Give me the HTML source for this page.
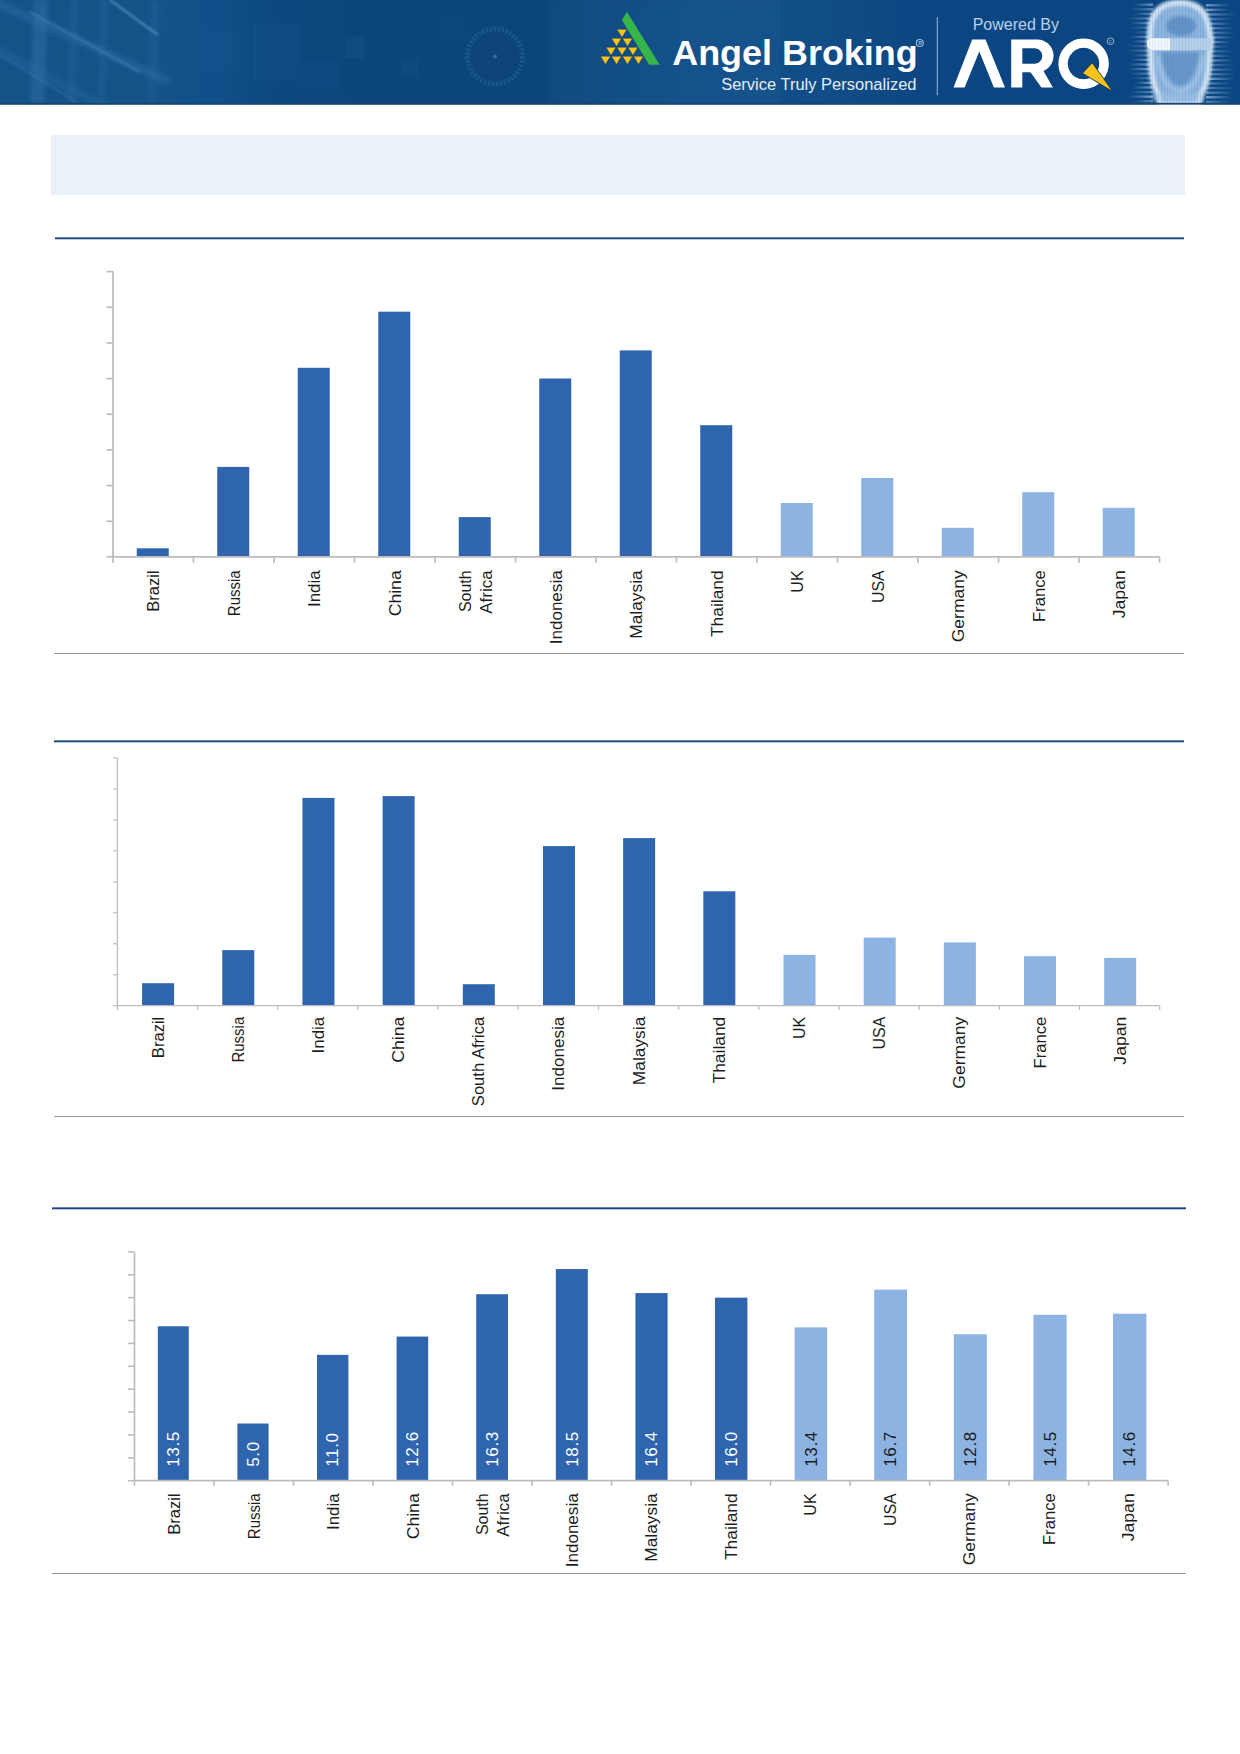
<!DOCTYPE html>
<html><head><meta charset="utf-8"><title>Angel Broking</title>
<style>
html,body{margin:0;padding:0;background:#fff;}
body{width:1240px;height:1754px;position:relative;overflow:hidden;font-family:"Liberation Sans", Arial, sans-serif;}
.abs{position:absolute;}
#hdr{left:0;top:0;width:1240px;height:105px;}
.box{left:51px;top:134.7px;width:1133.6px;height:59.9px;background:#eaf1f9;}
.hl{height:1px;background:#22457a;border-top:1px solid #6a87ab;border-bottom:1px solid #b3c8ea;}
.tl{height:1px;background:#8e9ba2;}
svg text{font-family:"Liberation Sans", Arial, sans-serif;}
</style></head>
<body>
<div class="abs" id="hdr"><svg width="1240" height="105" viewBox="0 0 1240 105" style="display:block">
<defs>
<linearGradient id="bg" x1="0" x2="1" y1="0" y2="0">
<stop offset="0" stop-color="#135388"/>
<stop offset="0.12" stop-color="#135388"/>
<stop offset="0.17" stop-color="#10508a"/>
<stop offset="0.22" stop-color="#0d4880"/>
<stop offset="0.3" stop-color="#0c457a"/>
<stop offset="0.44" stop-color="#0c457b"/>
<stop offset="0.5" stop-color="#0e4a82"/>
<stop offset="0.56" stop-color="#114e87"/>
<stop offset="0.66" stop-color="#114d87"/>
<stop offset="0.75" stop-color="#0c4682"/>
<stop offset="1" stop-color="#0c4682"/>
</linearGradient>
<radialGradient id="headg" cx="0.5" cy="0.45" r="0.6">
<stop offset="0" stop-color="#a9c7e6" stop-opacity="0.95"/>
<stop offset="0.7" stop-color="#8fb3da" stop-opacity="0.9"/>
<stop offset="1" stop-color="#7aa2cf" stop-opacity="0.6"/>
</radialGradient>
<linearGradient id="streakL" x1="0" x2="1">
<stop offset="0" stop-color="#8db6df" stop-opacity="0"/>
<stop offset="0.5" stop-color="#8db6df" stop-opacity="0.45"/>
<stop offset="1" stop-color="#a9cbec" stop-opacity="0.9"/>
</linearGradient>
<linearGradient id="streakR" x1="0" x2="1">
<stop offset="0" stop-color="#a9cbec" stop-opacity="0.9"/>
<stop offset="0.5" stop-color="#8db6df" stop-opacity="0.45"/>
<stop offset="1" stop-color="#8db6df" stop-opacity="0"/>
</linearGradient>
</defs>
<rect x="0" y="0" width="1240" height="104.5" fill="url(#bg)"/>
<defs><filter id="sb" x="-50%" y="-50%" width="200%" height="200%"><feGaussianBlur stdDeviation="2.2"/></filter><filter id="sb1" x="-20%" y="-20%" width="140%" height="140%"><feGaussianBlur stdDeviation="1.1"/></filter></defs>
<g filter="url(#sb)">
<polygon points="34,0 48,0 44,104 30,104" fill="#3a7bb6" fill-opacity="0.35"/>
<polygon points="70,0 78,0 76,104 68,104" fill="#3a7bb6" fill-opacity="0.18"/>
<polygon points="100,0 108,0 106,104 98,104" fill="#3a7bb6" fill-opacity="0.16"/>
<polygon points="150,0 160,0 158,104 148,104" fill="#3a7bb6" fill-opacity="0.15"/>
<line x1="-10" y1="0" x2="170" y2="82" stroke="#3a7bb6" stroke-opacity="0.3" stroke-width="9"/>
<line x1="-10" y1="45" x2="110" y2="110" stroke="#3a7bb6" stroke-opacity="0.22" stroke-width="8"/>
</g>
<g filter="url(#sb1)">
<line x1="110" y1="0" x2="158" y2="35" stroke="#7db0dc" stroke-opacity="0.5" stroke-width="2.2"/>
<line x1="30" y1="12" x2="140" y2="72" stroke="#6ea4d4" stroke-opacity="0.3" stroke-width="2"/>
<line x1="0" y1="55" x2="80" y2="104" stroke="#6ea4d4" stroke-opacity="0.22" stroke-width="2"/>
</g>
<rect x="254" y="23" width="46" height="58" fill="#5a98d2" fill-opacity="0.045"/>
<rect x="346" y="37" width="18" height="21" fill="#5a98d2" fill-opacity="0.07"/>
<rect x="401" y="58" width="18" height="20" fill="#5a98d2" fill-opacity="0.055"/>
<rect x="200" y="30" width="40" height="40" fill="#5a98d2" fill-opacity="0.03"/>
<rect x="300" y="60" width="40" height="30" fill="#5a98d2" fill-opacity="0.03"/>
<rect x="440" y="10" width="30" height="30" fill="#5a98d2" fill-opacity="0.02"/>
<circle cx="495" cy="56.5" r="27.5" fill="none" stroke="#6499cf" stroke-opacity="0.18" stroke-width="5" stroke-dasharray="2.5 1.5"/>
<circle cx="495" cy="56.5" r="22" fill="#0d427c" fill-opacity="0.35"/>
<circle cx="495" cy="56.5" r="2" fill="#5a8fc8" fill-opacity="0.5"/>
<rect x="550" y="0" width="230" height="104" fill="#2a6aa6" fill-opacity="0.13" filter="url(#sb)"/>
<polygon points="616.95,29.30 627.05,29.30 622.00,37.60" fill="#f8c51b" stroke="#0d3563" stroke-width="0.5"/>
<polygon points="611.45,38.25 621.55,38.25 616.50,46.55" fill="#f8c51b" stroke="#0d3563" stroke-width="0.5"/>
<polygon points="622.45,38.25 632.55,38.25 627.50,46.55" fill="#f8c51b" stroke="#0d3563" stroke-width="0.5"/>
<polygon points="605.95,47.20 616.05,47.20 611.00,55.50" fill="#f8c51b" stroke="#0d3563" stroke-width="0.5"/>
<polygon points="616.95,47.20 627.05,47.20 622.00,55.50" fill="#f8c51b" stroke="#0d3563" stroke-width="0.5"/>
<polygon points="627.95,47.20 638.05,47.20 633.00,55.50" fill="#f8c51b" stroke="#0d3563" stroke-width="0.5"/>
<polygon points="600.45,56.15 610.55,56.15 605.50,64.45" fill="#f8c51b" stroke="#0d3563" stroke-width="0.5"/>
<polygon points="611.45,56.15 621.55,56.15 616.50,64.45" fill="#f8c51b" stroke="#0d3563" stroke-width="0.5"/>
<polygon points="622.45,56.15 632.55,56.15 627.50,64.45" fill="#f8c51b" stroke="#0d3563" stroke-width="0.5"/>
<polygon points="633.45,56.15 643.55,56.15 638.50,64.45" fill="#f8c51b" stroke="#0d3563" stroke-width="0.5"/>
<polygon points="621.9,20 627,12 659.7,64.8 649.1,64.8" fill="#37b54a"/>
<text x="672.2" y="65.3" font-family="Liberation Sans, Arial, sans-serif" font-weight="bold" font-size="34.6" fill="#ffffff" textLength="245.5" lengthAdjust="spacingAndGlyphs">Angel Broking</text>
<circle cx="919.8" cy="43" r="3.5" fill="none" stroke="#9dbbe0" stroke-width="1.1"/>
<text x="918.3" y="45" font-family="Liberation Sans, Arial, sans-serif" font-weight="bold" font-size="5.2" fill="#9dbbe0">R</text>
<text x="721.2" y="89.9" font-family="Liberation Sans, Arial, sans-serif" font-size="17.4" fill="#e4edf7" textLength="195.3" lengthAdjust="spacingAndGlyphs">Service Truly Personalized</text>
<rect x="936.7" y="17.1" width="1.3" height="78.2" fill="#7d9cc4"/>
<text x="972.7" y="30" font-family="Liberation Sans, Arial, sans-serif" font-size="15.6" fill="#bcd2ec" textLength="86.3" lengthAdjust="spacingAndGlyphs">Powered By</text>
<polygon points="953.5,87.4 972.2,39.4 985.5,39.4 1005,87.4 993.9,87.4 979.3,51.4 964.6,87.4" fill="#ffffff"/>
<path fill-rule="evenodd" fill="#ffffff" d="M1011.2,87.4 V39.4 H1037.4 A16.45,16.45 0 0 1 1043.5,71.0 L1052.9,87.4 H1041.4 L1030.5,72.3 H1022.3 V87.4 Z M1022.3,48.3 H1034.55 A7.75,7.75 0 0 1 1034.55,63.8 H1022.3 Z"/>
<path fill-rule="evenodd" fill="#ffffff" d="M1083.6,38.5 A25.2,25.2 0 1 1 1083.59,38.5 Z M1083.5,47.8 A15.75,15.75 0 1 0 1083.51,47.8 Z"/>
<polygon points="1092.3,62.7 1082.4,73.3 1112.9,91.7" fill="#f8c31a" stroke="#0b2d52" stroke-width="0.9" stroke-linejoin="round"/>
<circle cx="1110.5" cy="41.2" r="3.3" fill="none" stroke="#9fb6d3" stroke-width="1"/>
<text x="1108.9" y="43.1" font-family="Liberation Sans, Arial, sans-serif" font-size="5" fill="#9fb6d3">c</text>
<defs><filter id="blur1" x="-20%" y="-20%" width="140%" height="140%"><feGaussianBlur stdDeviation="1.6"/></filter><filter id="blur05"><feGaussianBlur stdDeviation="0.6"/></filter></defs>
<g filter="url(#blur05)"><rect x="1133.1" y="3.5" width="19.9" height="2.3" fill="url(#streakL)" opacity="0.74"/><rect x="1206" y="4.1" width="25.0" height="2.3" fill="url(#streakR)" opacity="0.76"/><rect x="1130.0" y="8.1" width="23.0" height="2.3" fill="url(#streakL)" opacity="0.57"/><rect x="1206" y="8.7" width="22.1" height="2.3" fill="url(#streakR)" opacity="0.84"/><rect x="1132.9" y="12.7" width="20.1" height="2.3" fill="url(#streakL)" opacity="0.63"/><rect x="1206" y="13.3" width="30.0" height="2.3" fill="url(#streakR)" opacity="0.71"/><rect x="1128.3" y="17.3" width="24.7" height="2.3" fill="url(#streakL)" opacity="0.72"/><rect x="1206" y="17.9" width="27.1" height="2.3" fill="url(#streakR)" opacity="0.60"/><rect x="1129.9" y="21.9" width="23.1" height="2.3" fill="url(#streakL)" opacity="0.85"/><rect x="1206" y="22.5" width="26.2" height="2.3" fill="url(#streakR)" opacity="0.81"/><rect x="1129.6" y="26.5" width="23.4" height="2.3" fill="url(#streakL)" opacity="0.57"/><rect x="1206" y="27.1" width="28.1" height="2.3" fill="url(#streakR)" opacity="0.76"/><rect x="1132.6" y="31.1" width="20.4" height="2.3" fill="url(#streakL)" opacity="0.56"/><rect x="1206" y="31.7" width="28.9" height="2.3" fill="url(#streakR)" opacity="0.72"/><rect x="1129.2" y="35.7" width="23.8" height="2.3" fill="url(#streakL)" opacity="0.86"/><rect x="1206" y="36.3" width="27.7" height="2.3" fill="url(#streakR)" opacity="0.87"/><rect x="1131.8" y="40.3" width="21.2" height="2.3" fill="url(#streakL)" opacity="0.83"/><rect x="1206" y="40.9" width="25.6" height="2.3" fill="url(#streakR)" opacity="0.88"/><rect x="1128.0" y="44.9" width="25.0" height="2.3" fill="url(#streakL)" opacity="0.58"/><rect x="1206" y="45.5" width="23.1" height="2.3" fill="url(#streakR)" opacity="0.63"/><rect x="1127.3" y="49.5" width="25.7" height="2.3" fill="url(#streakL)" opacity="0.70"/><rect x="1206" y="50.1" width="27.0" height="2.3" fill="url(#streakR)" opacity="0.66"/><rect x="1130.9" y="54.1" width="22.1" height="2.3" fill="url(#streakL)" opacity="0.69"/><rect x="1206" y="54.7" width="24.8" height="2.3" fill="url(#streakR)" opacity="0.75"/><rect x="1130.3" y="58.7" width="22.7" height="2.3" fill="url(#streakL)" opacity="0.87"/><rect x="1206" y="59.3" width="27.5" height="2.3" fill="url(#streakR)" opacity="0.88"/><rect x="1128.1" y="63.3" width="24.9" height="2.3" fill="url(#streakL)" opacity="0.90"/><rect x="1206" y="63.9" width="27.4" height="2.3" fill="url(#streakR)" opacity="0.61"/><rect x="1128.1" y="67.9" width="24.9" height="2.3" fill="url(#streakL)" opacity="0.89"/><rect x="1206" y="68.5" width="29.2" height="2.3" fill="url(#streakR)" opacity="0.75"/><rect x="1129.3" y="72.5" width="23.7" height="2.3" fill="url(#streakL)" opacity="0.62"/><rect x="1206" y="73.1" width="28.7" height="2.3" fill="url(#streakR)" opacity="0.75"/><rect x="1132.7" y="77.1" width="20.3" height="2.3" fill="url(#streakL)" opacity="0.57"/><rect x="1206" y="77.7" width="28.8" height="2.3" fill="url(#streakR)" opacity="0.90"/><rect x="1134.3" y="81.7" width="18.7" height="2.3" fill="url(#streakL)" opacity="0.83"/><rect x="1206" y="82.3" width="25.3" height="2.3" fill="url(#streakR)" opacity="0.60"/><rect x="1132.6" y="86.3" width="20.4" height="2.3" fill="url(#streakL)" opacity="0.82"/><rect x="1206" y="86.9" width="29.0" height="2.3" fill="url(#streakR)" opacity="0.57"/><rect x="1130.1" y="90.9" width="22.9" height="2.3" fill="url(#streakL)" opacity="0.57"/><rect x="1206" y="91.5" width="27.7" height="2.3" fill="url(#streakR)" opacity="0.67"/><rect x="1128.0" y="95.5" width="25.0" height="2.3" fill="url(#streakL)" opacity="0.89"/><rect x="1206" y="96.1" width="26.0" height="2.3" fill="url(#streakR)" opacity="0.90"/><rect x="1132.5" y="100.1" width="20.5" height="2.3" fill="url(#streakL)" opacity="0.58"/><rect x="1206" y="100.7" width="26.8" height="2.3" fill="url(#streakR)" opacity="0.56"/></g>
<path d="M1180,2.5 C1196,2.5 1206,10 1208.5,26 L1211,40 L1209.5,56 C1209,74 1206.5,86 1201,95 L1199,104.5 H1160 L1158,95 C1153,86 1151,74 1150.5,56 L1149.5,40 L1150.5,26 C1153,10 1163,2.5 1180,2.5 Z" fill="#8cb4de"/>
<path d="M1180,2.5 C1196,2.5 1206,10 1208.5,26 L1211,40 L1209.5,56 C1209,74 1206.5,86 1201,95 L1199,104.5 H1160 L1158,95 C1153,86 1151,74 1150.5,56 L1149.5,40 L1150.5,26 C1153,10 1163,2.5 1180,2.5 Z" fill="none" stroke="#d8e8f6" stroke-width="6" filter="url(#blur1)" opacity="0.95"/>
<ellipse cx="1181" cy="26" rx="15" ry="10" fill="#4a7db6" fill-opacity="0.6" filter="url(#blur1)"/>
<path d="M1161,52 C1163,70 1169,84 1180,86 C1191,84 1197,70 1199,52 Z" fill="#4a7db6" fill-opacity="0.55" filter="url(#blur1)"/>
<path d="M1158,56 C1160,78 1168,90 1180,91 C1192,90 1200,78 1203,56" fill="none" stroke="#c6dcf1" stroke-width="2.5" opacity="0.55" filter="url(#blur1)"/>
<rect x="1152" y="93" width="52" height="8" fill="#a9c8e6" fill-opacity="0.45" filter="url(#blur1)"/>
<rect x="1149" y="3" width="0.8" height="101" fill="#2a64a0" fill-opacity="0.14"/>
<rect x="1152" y="3" width="0.8" height="101" fill="#2a64a0" fill-opacity="0.14"/>
<rect x="1155" y="3" width="0.8" height="101" fill="#2a64a0" fill-opacity="0.14"/>
<rect x="1158" y="3" width="0.8" height="101" fill="#2a64a0" fill-opacity="0.14"/>
<rect x="1161" y="3" width="0.8" height="101" fill="#2a64a0" fill-opacity="0.14"/>
<rect x="1164" y="3" width="0.8" height="101" fill="#2a64a0" fill-opacity="0.14"/>
<rect x="1167" y="3" width="0.8" height="101" fill="#2a64a0" fill-opacity="0.14"/>
<rect x="1170" y="3" width="0.8" height="101" fill="#2a64a0" fill-opacity="0.14"/>
<rect x="1173" y="3" width="0.8" height="101" fill="#2a64a0" fill-opacity="0.14"/>
<rect x="1176" y="3" width="0.8" height="101" fill="#2a64a0" fill-opacity="0.14"/>
<rect x="1179" y="3" width="0.8" height="101" fill="#2a64a0" fill-opacity="0.14"/>
<rect x="1182" y="3" width="0.8" height="101" fill="#2a64a0" fill-opacity="0.14"/>
<rect x="1185" y="3" width="0.8" height="101" fill="#2a64a0" fill-opacity="0.14"/>
<rect x="1188" y="3" width="0.8" height="101" fill="#2a64a0" fill-opacity="0.14"/>
<rect x="1191" y="3" width="0.8" height="101" fill="#2a64a0" fill-opacity="0.14"/>
<rect x="1194" y="3" width="0.8" height="101" fill="#2a64a0" fill-opacity="0.14"/>
<rect x="1197" y="3" width="0.8" height="101" fill="#2a64a0" fill-opacity="0.14"/>
<rect x="1200" y="3" width="0.8" height="101" fill="#2a64a0" fill-opacity="0.14"/>
<rect x="1203" y="3" width="0.8" height="101" fill="#2a64a0" fill-opacity="0.14"/>
<rect x="1206" y="3" width="0.8" height="101" fill="#2a64a0" fill-opacity="0.14"/>
<rect x="1209" y="3" width="0.8" height="101" fill="#2a64a0" fill-opacity="0.14"/>
<path d="M1151,38.3 H1211.6 V50.3 H1154 C1149.5,50.3 1147,47 1147,43.5 C1147,40.5 1148.5,38.3 1151,38.3 Z" fill="#b7d1ea" fill-opacity="0.95"/>
<path d="M1151,38.3 H1170 V50.3 H1154 C1149.5,50.3 1147,47 1147,43.5 C1147,40.5 1148.5,38.3 1151,38.3 Z" fill="#f1f6fb"/>
<rect x="1149" y="38.3" width="0.7" height="12" fill="#1a5592" fill-opacity="0.10"/>
<rect x="1152" y="38.3" width="0.7" height="12" fill="#1a5592" fill-opacity="0.10"/>
<rect x="1155" y="38.3" width="0.7" height="12" fill="#1a5592" fill-opacity="0.10"/>
<rect x="1158" y="38.3" width="0.7" height="12" fill="#1a5592" fill-opacity="0.10"/>
<rect x="1161" y="38.3" width="0.7" height="12" fill="#1a5592" fill-opacity="0.10"/>
<rect x="1164" y="38.3" width="0.7" height="12" fill="#1a5592" fill-opacity="0.10"/>
<rect x="1167" y="38.3" width="0.7" height="12" fill="#1a5592" fill-opacity="0.10"/>
<rect x="1170" y="38.3" width="0.7" height="12" fill="#1a5592" fill-opacity="0.10"/>
<rect x="1173" y="38.3" width="0.7" height="12" fill="#1a5592" fill-opacity="0.10"/>
<rect x="1176" y="38.3" width="0.7" height="12" fill="#1a5592" fill-opacity="0.10"/>
<rect x="1179" y="38.3" width="0.7" height="12" fill="#1a5592" fill-opacity="0.10"/>
<rect x="1182" y="38.3" width="0.7" height="12" fill="#1a5592" fill-opacity="0.10"/>
<rect x="1185" y="38.3" width="0.7" height="12" fill="#1a5592" fill-opacity="0.10"/>
<rect x="1188" y="38.3" width="0.7" height="12" fill="#1a5592" fill-opacity="0.10"/>
<rect x="1191" y="38.3" width="0.7" height="12" fill="#1a5592" fill-opacity="0.10"/>
<rect x="1194" y="38.3" width="0.7" height="12" fill="#1a5592" fill-opacity="0.10"/>
<rect x="1197" y="38.3" width="0.7" height="12" fill="#1a5592" fill-opacity="0.10"/>
<rect x="1200" y="38.3" width="0.7" height="12" fill="#1a5592" fill-opacity="0.10"/>
<rect x="1203" y="38.3" width="0.7" height="12" fill="#1a5592" fill-opacity="0.10"/>
<rect x="1206" y="38.3" width="0.7" height="12" fill="#1a5592" fill-opacity="0.10"/>
<rect x="1209" y="38.3" width="0.7" height="12" fill="#1a5592" fill-opacity="0.10"/>
<rect x="0" y="102.8" width="1240" height="1.8" fill="#1b4571"/>
</svg></div>
<div class="abs box"></div>
<div class="abs hl" style="left:54.5px;top:237px;width:1129.4px"></div>
<div class="abs tl" style="left:54.2px;top:653px;width:1129.7px"></div>
<div class="abs hl" style="left:54px;top:740px;width:1129.9px"></div>
<div class="abs tl" style="left:54px;top:1116px;width:1129.9px"></div>
<div class="abs hl" style="left:51.6px;top:1207px;width:1134.9px"></div>
<div class="abs tl" style="left:51.6px;top:1573px;width:1134.7px"></div>
<svg class="abs" style="left:0;top:0" width="1240" height="1754" viewBox="0 0 1240 1754">
<rect x="136.75" y="548.30" width="32.00" height="8.60" fill="#2e65ae"/>
<rect x="217.25" y="466.90" width="32.00" height="90.00" fill="#2e65ae"/>
<rect x="297.75" y="367.80" width="32.00" height="189.10" fill="#2e65ae"/>
<rect x="378.25" y="311.70" width="32.00" height="245.20" fill="#2e65ae"/>
<rect x="458.75" y="517.10" width="32.00" height="39.80" fill="#2e65ae"/>
<rect x="539.25" y="378.50" width="32.00" height="178.40" fill="#2e65ae"/>
<rect x="619.75" y="350.40" width="32.00" height="206.50" fill="#2e65ae"/>
<rect x="700.25" y="425.20" width="32.00" height="131.70" fill="#2e65ae"/>
<rect x="780.75" y="503.00" width="32.00" height="53.90" fill="#8db3e2"/>
<rect x="861.25" y="478.00" width="32.00" height="78.90" fill="#8db3e2"/>
<rect x="941.75" y="527.80" width="32.00" height="29.10" fill="#8db3e2"/>
<rect x="1022.25" y="492.20" width="32.00" height="64.70" fill="#8db3e2"/>
<rect x="1102.75" y="507.80" width="32.00" height="49.10" fill="#8db3e2"/>
<line x1="113.00" y1="271.60" x2="113.00" y2="556.90" stroke="#bcbcbc" stroke-width="1.8"/>
<line x1="106.50" y1="271.60" x2="113.00" y2="271.60" stroke="#bcbcbc" stroke-width="1.7"/>
<line x1="106.50" y1="307.26" x2="113.00" y2="307.26" stroke="#bcbcbc" stroke-width="1.7"/>
<line x1="106.50" y1="342.93" x2="113.00" y2="342.93" stroke="#bcbcbc" stroke-width="1.7"/>
<line x1="106.50" y1="378.59" x2="113.00" y2="378.59" stroke="#bcbcbc" stroke-width="1.7"/>
<line x1="106.50" y1="414.25" x2="113.00" y2="414.25" stroke="#bcbcbc" stroke-width="1.7"/>
<line x1="106.50" y1="449.91" x2="113.00" y2="449.91" stroke="#bcbcbc" stroke-width="1.7"/>
<line x1="106.50" y1="485.57" x2="113.00" y2="485.57" stroke="#bcbcbc" stroke-width="1.7"/>
<line x1="106.50" y1="521.24" x2="113.00" y2="521.24" stroke="#bcbcbc" stroke-width="1.7"/>
<line x1="106.50" y1="556.90" x2="113.00" y2="556.90" stroke="#bcbcbc" stroke-width="1.7"/>
<line x1="113.00" y1="556.90" x2="1159.50" y2="556.90" stroke="#bcbcbc" stroke-width="1.8"/>
<line x1="113.00" y1="556.90" x2="113.00" y2="562.70" stroke="#bcbcbc" stroke-width="1.7"/>
<line x1="193.50" y1="556.90" x2="193.50" y2="562.70" stroke="#bcbcbc" stroke-width="1.7"/>
<line x1="274.00" y1="556.90" x2="274.00" y2="562.70" stroke="#bcbcbc" stroke-width="1.7"/>
<line x1="354.50" y1="556.90" x2="354.50" y2="562.70" stroke="#bcbcbc" stroke-width="1.7"/>
<line x1="435.00" y1="556.90" x2="435.00" y2="562.70" stroke="#bcbcbc" stroke-width="1.7"/>
<line x1="515.50" y1="556.90" x2="515.50" y2="562.70" stroke="#bcbcbc" stroke-width="1.7"/>
<line x1="596.00" y1="556.90" x2="596.00" y2="562.70" stroke="#bcbcbc" stroke-width="1.7"/>
<line x1="676.50" y1="556.90" x2="676.50" y2="562.70" stroke="#bcbcbc" stroke-width="1.7"/>
<line x1="757.00" y1="556.90" x2="757.00" y2="562.70" stroke="#bcbcbc" stroke-width="1.7"/>
<line x1="837.50" y1="556.90" x2="837.50" y2="562.70" stroke="#bcbcbc" stroke-width="1.7"/>
<line x1="918.00" y1="556.90" x2="918.00" y2="562.70" stroke="#bcbcbc" stroke-width="1.7"/>
<line x1="998.50" y1="556.90" x2="998.50" y2="562.70" stroke="#bcbcbc" stroke-width="1.7"/>
<line x1="1079.00" y1="556.90" x2="1079.00" y2="562.70" stroke="#bcbcbc" stroke-width="1.7"/>
<line x1="1159.50" y1="556.90" x2="1159.50" y2="562.70" stroke="#bcbcbc" stroke-width="1.7"/>
<text transform="translate(159.35,570.30) rotate(-90) scale(0.969,1)" text-anchor="end" font-size="17.1" fill="#1e1e1e">Brazil</text>
<text transform="translate(239.85,570.30) rotate(-90) scale(0.879,1)" text-anchor="end" font-size="17.1" fill="#1e1e1e">Russia</text>
<text transform="translate(320.35,570.30) rotate(-90) scale(0.991,1)" text-anchor="end" font-size="17.1" fill="#1e1e1e">India</text>
<text transform="translate(400.85,570.30) rotate(-90) scale(1.031,1)" text-anchor="end" font-size="17.1" fill="#1e1e1e">China</text>
<text transform="translate(470.70,570.30) rotate(-90) scale(0.935,1)" text-anchor="end" font-size="17.1" fill="#1e1e1e">South</text>
<text transform="translate(492.00,570.30) rotate(-90) scale(0.995,1)" text-anchor="end" font-size="17.1" fill="#1e1e1e">Africa</text>
<text transform="translate(561.85,570.30) rotate(-90) scale(0.999,1)" text-anchor="end" font-size="17.1" fill="#1e1e1e">Indonesia</text>
<text transform="translate(642.35,570.30) rotate(-90) scale(1.015,1)" text-anchor="end" font-size="17.1" fill="#1e1e1e">Malaysia</text>
<text transform="translate(722.85,570.30) rotate(-90) scale(1.018,1)" text-anchor="end" font-size="17.1" fill="#1e1e1e">Thailand</text>
<text transform="translate(803.35,570.30) rotate(-90) scale(0.941,1)" text-anchor="end" font-size="17.1" fill="#1e1e1e">UK</text>
<text transform="translate(883.85,570.30) rotate(-90) scale(0.932,1)" text-anchor="end" font-size="17.1" fill="#1e1e1e">USA</text>
<text transform="translate(964.35,570.30) rotate(-90) scale(1.024,1)" text-anchor="end" font-size="17.1" fill="#1e1e1e">Germany</text>
<text transform="translate(1044.85,570.30) rotate(-90) scale(0.973,1)" text-anchor="end" font-size="17.1" fill="#1e1e1e">France</text>
<text transform="translate(1125.35,570.30) rotate(-90) scale(1.030,1)" text-anchor="end" font-size="17.1" fill="#1e1e1e">Japan</text>
<rect x="142.09" y="983.20" width="32.00" height="22.50" fill="#2e65ae"/>
<rect x="222.27" y="950.10" width="32.00" height="55.60" fill="#2e65ae"/>
<rect x="302.44" y="797.90" width="32.00" height="207.80" fill="#2e65ae"/>
<rect x="382.62" y="796.10" width="32.00" height="209.60" fill="#2e65ae"/>
<rect x="462.80" y="984.20" width="32.00" height="21.50" fill="#2e65ae"/>
<rect x="542.97" y="846.10" width="32.00" height="159.60" fill="#2e65ae"/>
<rect x="623.15" y="838.10" width="32.00" height="167.60" fill="#2e65ae"/>
<rect x="703.33" y="891.30" width="32.00" height="114.40" fill="#2e65ae"/>
<rect x="783.50" y="954.90" width="32.00" height="50.80" fill="#8db3e2"/>
<rect x="863.68" y="937.60" width="32.00" height="68.10" fill="#8db3e2"/>
<rect x="943.86" y="942.40" width="32.00" height="63.30" fill="#8db3e2"/>
<rect x="1024.03" y="956.20" width="32.00" height="49.50" fill="#8db3e2"/>
<rect x="1104.21" y="957.90" width="32.00" height="47.80" fill="#8db3e2"/>
<line x1="117.40" y1="757.90" x2="117.40" y2="1005.70" stroke="#bcbcbc" stroke-width="1.3"/>
<line x1="113.10" y1="757.90" x2="117.40" y2="757.90" stroke="#bcbcbc" stroke-width="1.2"/>
<line x1="113.10" y1="788.88" x2="117.40" y2="788.88" stroke="#bcbcbc" stroke-width="1.2"/>
<line x1="113.10" y1="819.85" x2="117.40" y2="819.85" stroke="#bcbcbc" stroke-width="1.2"/>
<line x1="113.10" y1="850.83" x2="117.40" y2="850.83" stroke="#bcbcbc" stroke-width="1.2"/>
<line x1="113.10" y1="881.80" x2="117.40" y2="881.80" stroke="#bcbcbc" stroke-width="1.2"/>
<line x1="113.10" y1="912.78" x2="117.40" y2="912.78" stroke="#bcbcbc" stroke-width="1.2"/>
<line x1="113.10" y1="943.75" x2="117.40" y2="943.75" stroke="#bcbcbc" stroke-width="1.2"/>
<line x1="113.10" y1="974.73" x2="117.40" y2="974.73" stroke="#bcbcbc" stroke-width="1.2"/>
<line x1="113.10" y1="1005.70" x2="117.40" y2="1005.70" stroke="#bcbcbc" stroke-width="1.2"/>
<line x1="117.40" y1="1005.70" x2="1159.70" y2="1005.70" stroke="#bcbcbc" stroke-width="1.3"/>
<line x1="117.40" y1="1005.70" x2="117.40" y2="1009.90" stroke="#bcbcbc" stroke-width="1.2"/>
<line x1="197.58" y1="1005.70" x2="197.58" y2="1009.90" stroke="#bcbcbc" stroke-width="1.2"/>
<line x1="277.75" y1="1005.70" x2="277.75" y2="1009.90" stroke="#bcbcbc" stroke-width="1.2"/>
<line x1="357.93" y1="1005.70" x2="357.93" y2="1009.90" stroke="#bcbcbc" stroke-width="1.2"/>
<line x1="438.11" y1="1005.70" x2="438.11" y2="1009.90" stroke="#bcbcbc" stroke-width="1.2"/>
<line x1="518.28" y1="1005.70" x2="518.28" y2="1009.90" stroke="#bcbcbc" stroke-width="1.2"/>
<line x1="598.46" y1="1005.70" x2="598.46" y2="1009.90" stroke="#bcbcbc" stroke-width="1.2"/>
<line x1="678.64" y1="1005.70" x2="678.64" y2="1009.90" stroke="#bcbcbc" stroke-width="1.2"/>
<line x1="758.82" y1="1005.70" x2="758.82" y2="1009.90" stroke="#bcbcbc" stroke-width="1.2"/>
<line x1="838.99" y1="1005.70" x2="838.99" y2="1009.90" stroke="#bcbcbc" stroke-width="1.2"/>
<line x1="919.17" y1="1005.70" x2="919.17" y2="1009.90" stroke="#bcbcbc" stroke-width="1.2"/>
<line x1="999.35" y1="1005.70" x2="999.35" y2="1009.90" stroke="#bcbcbc" stroke-width="1.2"/>
<line x1="1079.52" y1="1005.70" x2="1079.52" y2="1009.90" stroke="#bcbcbc" stroke-width="1.2"/>
<line x1="1159.70" y1="1005.70" x2="1159.70" y2="1009.90" stroke="#bcbcbc" stroke-width="1.2"/>
<text transform="translate(163.59,1016.70) rotate(-90) scale(0.969,1)" text-anchor="end" font-size="17.1" fill="#1e1e1e">Brazil</text>
<text transform="translate(243.77,1016.70) rotate(-90) scale(0.879,1)" text-anchor="end" font-size="17.1" fill="#1e1e1e">Russia</text>
<text transform="translate(323.94,1016.70) rotate(-90) scale(0.991,1)" text-anchor="end" font-size="17.1" fill="#1e1e1e">India</text>
<text transform="translate(404.12,1016.70) rotate(-90) scale(1.031,1)" text-anchor="end" font-size="17.1" fill="#1e1e1e">China</text>
<text transform="translate(484.30,1016.70) rotate(-90) scale(0.971,1)" text-anchor="end" font-size="17.1" fill="#1e1e1e">South Africa</text>
<text transform="translate(564.47,1016.70) rotate(-90) scale(0.999,1)" text-anchor="end" font-size="17.1" fill="#1e1e1e">Indonesia</text>
<text transform="translate(644.65,1016.70) rotate(-90) scale(1.015,1)" text-anchor="end" font-size="17.1" fill="#1e1e1e">Malaysia</text>
<text transform="translate(724.83,1016.70) rotate(-90) scale(1.018,1)" text-anchor="end" font-size="17.1" fill="#1e1e1e">Thailand</text>
<text transform="translate(805.00,1016.70) rotate(-90) scale(0.941,1)" text-anchor="end" font-size="17.1" fill="#1e1e1e">UK</text>
<text transform="translate(885.18,1016.70) rotate(-90) scale(0.932,1)" text-anchor="end" font-size="17.1" fill="#1e1e1e">USA</text>
<text transform="translate(965.36,1016.70) rotate(-90) scale(1.024,1)" text-anchor="end" font-size="17.1" fill="#1e1e1e">Germany</text>
<text transform="translate(1045.53,1016.70) rotate(-90) scale(0.973,1)" text-anchor="end" font-size="17.1" fill="#1e1e1e">France</text>
<text transform="translate(1125.71,1016.70) rotate(-90) scale(1.030,1)" text-anchor="end" font-size="17.1" fill="#1e1e1e">Japan</text>
<rect x="157.80" y="1326.26" width="31.00" height="154.44" fill="#2e65ae"/>
<rect x="237.40" y="1423.50" width="31.20" height="57.20" fill="#2e65ae"/>
<rect x="317.00" y="1354.86" width="31.40" height="125.84" fill="#2e65ae"/>
<rect x="396.60" y="1336.56" width="31.60" height="144.14" fill="#2e65ae"/>
<rect x="476.20" y="1294.23" width="31.80" height="186.47" fill="#2e65ae"/>
<rect x="555.80" y="1269.06" width="32.00" height="211.64" fill="#2e65ae"/>
<rect x="635.40" y="1293.08" width="32.20" height="187.62" fill="#2e65ae"/>
<rect x="715.00" y="1297.66" width="32.40" height="183.04" fill="#2e65ae"/>
<rect x="794.60" y="1327.40" width="32.60" height="153.30" fill="#8db3e2"/>
<rect x="874.20" y="1289.65" width="32.80" height="191.05" fill="#8db3e2"/>
<rect x="953.80" y="1334.27" width="33.00" height="146.43" fill="#8db3e2"/>
<rect x="1033.40" y="1314.82" width="33.20" height="165.88" fill="#8db3e2"/>
<rect x="1113.00" y="1313.68" width="33.40" height="167.02" fill="#8db3e2"/>
<line x1="134.50" y1="1251.90" x2="134.50" y2="1480.70" stroke="#bcbcbc" stroke-width="1.7"/>
<line x1="128.10" y1="1251.90" x2="134.50" y2="1251.90" stroke="#bcbcbc" stroke-width="1.6"/>
<line x1="128.10" y1="1274.78" x2="134.50" y2="1274.78" stroke="#bcbcbc" stroke-width="1.6"/>
<line x1="128.10" y1="1297.66" x2="134.50" y2="1297.66" stroke="#bcbcbc" stroke-width="1.6"/>
<line x1="128.10" y1="1320.54" x2="134.50" y2="1320.54" stroke="#bcbcbc" stroke-width="1.6"/>
<line x1="128.10" y1="1343.42" x2="134.50" y2="1343.42" stroke="#bcbcbc" stroke-width="1.6"/>
<line x1="128.10" y1="1366.30" x2="134.50" y2="1366.30" stroke="#bcbcbc" stroke-width="1.6"/>
<line x1="128.10" y1="1389.18" x2="134.50" y2="1389.18" stroke="#bcbcbc" stroke-width="1.6"/>
<line x1="128.10" y1="1412.06" x2="134.50" y2="1412.06" stroke="#bcbcbc" stroke-width="1.6"/>
<line x1="128.10" y1="1434.94" x2="134.50" y2="1434.94" stroke="#bcbcbc" stroke-width="1.6"/>
<line x1="128.10" y1="1457.82" x2="134.50" y2="1457.82" stroke="#bcbcbc" stroke-width="1.6"/>
<line x1="128.10" y1="1480.70" x2="134.50" y2="1480.70" stroke="#bcbcbc" stroke-width="1.6"/>
<line x1="134.50" y1="1480.70" x2="1168.10" y2="1480.70" stroke="#bcbcbc" stroke-width="1.7"/>
<line x1="134.50" y1="1480.70" x2="134.50" y2="1485.70" stroke="#bcbcbc" stroke-width="1.6"/>
<line x1="214.01" y1="1480.70" x2="214.01" y2="1485.70" stroke="#bcbcbc" stroke-width="1.6"/>
<line x1="293.52" y1="1480.70" x2="293.52" y2="1485.70" stroke="#bcbcbc" stroke-width="1.6"/>
<line x1="373.02" y1="1480.70" x2="373.02" y2="1485.70" stroke="#bcbcbc" stroke-width="1.6"/>
<line x1="452.53" y1="1480.70" x2="452.53" y2="1485.70" stroke="#bcbcbc" stroke-width="1.6"/>
<line x1="532.04" y1="1480.70" x2="532.04" y2="1485.70" stroke="#bcbcbc" stroke-width="1.6"/>
<line x1="611.55" y1="1480.70" x2="611.55" y2="1485.70" stroke="#bcbcbc" stroke-width="1.6"/>
<line x1="691.05" y1="1480.70" x2="691.05" y2="1485.70" stroke="#bcbcbc" stroke-width="1.6"/>
<line x1="770.56" y1="1480.70" x2="770.56" y2="1485.70" stroke="#bcbcbc" stroke-width="1.6"/>
<line x1="850.07" y1="1480.70" x2="850.07" y2="1485.70" stroke="#bcbcbc" stroke-width="1.6"/>
<line x1="929.58" y1="1480.70" x2="929.58" y2="1485.70" stroke="#bcbcbc" stroke-width="1.6"/>
<line x1="1009.08" y1="1480.70" x2="1009.08" y2="1485.70" stroke="#bcbcbc" stroke-width="1.6"/>
<line x1="1088.59" y1="1480.70" x2="1088.59" y2="1485.70" stroke="#bcbcbc" stroke-width="1.6"/>
<line x1="1168.10" y1="1480.70" x2="1168.10" y2="1485.70" stroke="#bcbcbc" stroke-width="1.6"/>
<text transform="translate(180.35,1493.30) rotate(-90) scale(0.969,1)" text-anchor="end" font-size="17.1" fill="#1e1e1e">Brazil</text>
<text transform="translate(259.86,1493.30) rotate(-90) scale(0.879,1)" text-anchor="end" font-size="17.1" fill="#1e1e1e">Russia</text>
<text transform="translate(339.37,1493.30) rotate(-90) scale(0.991,1)" text-anchor="end" font-size="17.1" fill="#1e1e1e">India</text>
<text transform="translate(418.88,1493.30) rotate(-90) scale(1.031,1)" text-anchor="end" font-size="17.1" fill="#1e1e1e">China</text>
<text transform="translate(487.73,1493.30) rotate(-90) scale(0.935,1)" text-anchor="end" font-size="17.1" fill="#1e1e1e">South</text>
<text transform="translate(509.03,1493.30) rotate(-90) scale(0.995,1)" text-anchor="end" font-size="17.1" fill="#1e1e1e">Africa</text>
<text transform="translate(577.89,1493.30) rotate(-90) scale(0.999,1)" text-anchor="end" font-size="17.1" fill="#1e1e1e">Indonesia</text>
<text transform="translate(657.40,1493.30) rotate(-90) scale(1.015,1)" text-anchor="end" font-size="17.1" fill="#1e1e1e">Malaysia</text>
<text transform="translate(736.91,1493.30) rotate(-90) scale(1.018,1)" text-anchor="end" font-size="17.1" fill="#1e1e1e">Thailand</text>
<text transform="translate(816.42,1493.30) rotate(-90) scale(0.941,1)" text-anchor="end" font-size="17.1" fill="#1e1e1e">UK</text>
<text transform="translate(895.92,1493.30) rotate(-90) scale(0.932,1)" text-anchor="end" font-size="17.1" fill="#1e1e1e">USA</text>
<text transform="translate(975.43,1493.30) rotate(-90) scale(1.024,1)" text-anchor="end" font-size="17.1" fill="#1e1e1e">Germany</text>
<text transform="translate(1054.94,1493.30) rotate(-90) scale(0.973,1)" text-anchor="end" font-size="17.1" fill="#1e1e1e">France</text>
<text transform="translate(1134.45,1493.30) rotate(-90) scale(1.030,1)" text-anchor="end" font-size="17.1" fill="#1e1e1e">Japan</text>
<text transform="translate(179.00,1466.70) rotate(-90)" text-anchor="start" font-size="17" letter-spacing="0.6" fill="#ffffff">13.5</text>
<text transform="translate(258.70,1466.70) rotate(-90)" text-anchor="start" font-size="17" letter-spacing="0.6" fill="#ffffff">5.0</text>
<text transform="translate(338.40,1466.70) rotate(-90)" text-anchor="start" font-size="17" letter-spacing="0.6" fill="#ffffff">11.0</text>
<text transform="translate(418.10,1466.70) rotate(-90)" text-anchor="start" font-size="17" letter-spacing="0.6" fill="#ffffff">12.6</text>
<text transform="translate(497.80,1466.70) rotate(-90)" text-anchor="start" font-size="17" letter-spacing="0.6" fill="#ffffff">16.3</text>
<text transform="translate(577.50,1466.70) rotate(-90)" text-anchor="start" font-size="17" letter-spacing="0.6" fill="#ffffff">18.5</text>
<text transform="translate(657.20,1466.70) rotate(-90)" text-anchor="start" font-size="17" letter-spacing="0.6" fill="#ffffff">16.4</text>
<text transform="translate(736.90,1466.70) rotate(-90)" text-anchor="start" font-size="17" letter-spacing="0.6" fill="#ffffff">16.0</text>
<text transform="translate(816.60,1466.70) rotate(-90)" text-anchor="start" font-size="17" letter-spacing="0.6" fill="#1a1a1a">13.4</text>
<text transform="translate(896.30,1466.70) rotate(-90)" text-anchor="start" font-size="17" letter-spacing="0.6" fill="#1a1a1a">16.7</text>
<text transform="translate(976.00,1466.70) rotate(-90)" text-anchor="start" font-size="17" letter-spacing="0.6" fill="#1a1a1a">12.8</text>
<text transform="translate(1055.70,1466.70) rotate(-90)" text-anchor="start" font-size="17" letter-spacing="0.6" fill="#1a1a1a">14.5</text>
<text transform="translate(1135.40,1466.70) rotate(-90)" text-anchor="start" font-size="17" letter-spacing="0.6" fill="#1a1a1a">14.6</text>
</svg>
</body></html>
